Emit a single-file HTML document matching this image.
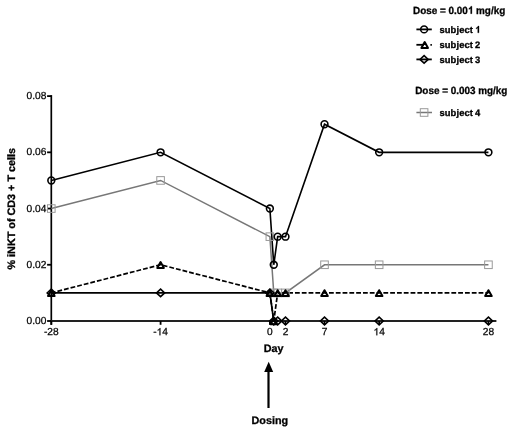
<!DOCTYPE html>
<html><head><meta charset="utf-8"><style>
html,body{margin:0;padding:0;background:#fff;}
body{width:520px;height:431px;overflow:hidden;}
svg{display:block;filter:blur(0.3px);}
text{font-family:"Liberation Sans",sans-serif;fill:#000;text-rendering:geometricPrecision;}
.tk{font-size:10.2px;stroke:#000;stroke-width:0.25px;}
.lt{font-size:10.4px;font-weight:bold;stroke:#000;stroke-width:0.3px;}
.ls{font-size:9.4px;letter-spacing:0.12px;word-spacing:-0.7px;font-weight:bold;stroke:#000;stroke-width:0.3px;}
.at{font-size:10.8px;font-weight:bold;stroke:#000;stroke-width:0.3px;}
</style></head><body>
<svg width="520" height="431" viewBox="0 0 520 431">
<path d="M51.30,95.1 L51.30,324.80" stroke="#000" stroke-width="1.7" fill="none"/>
<path d="M50.40,321.00 L496.4,321.00" stroke="#222" stroke-width="1.8" fill="none"/>
<path d="M47.1,321.00 L51.30,321.00" stroke="#000" stroke-width="1.8"/>
<text x="46.4" y="324.10" text-anchor="end" class="tk">0.00</text>
<path d="M47.1,264.77 L51.30,264.77" stroke="#000" stroke-width="1.8"/>
<text x="46.4" y="267.88" text-anchor="end" class="tk">0.02</text>
<path d="M47.1,208.55 L51.30,208.55" stroke="#000" stroke-width="1.8"/>
<text x="46.4" y="211.65" text-anchor="end" class="tk">0.04</text>
<path d="M47.1,152.33 L51.30,152.33" stroke="#000" stroke-width="1.8"/>
<text x="46.4" y="155.43" text-anchor="end" class="tk">0.06</text>
<path d="M47.1,96.10 L51.30,96.10" stroke="#000" stroke-width="1.8"/>
<text x="46.4" y="99.20" text-anchor="end" class="tk">0.08</text>
<path d="M51.30,321.00 L51.30,324.80" stroke="#000" stroke-width="1.8"/>
<text x="51.30" y="335.3" text-anchor="middle" class="tk">-28</text>
<path d="M160.58,321.00 L160.58,324.80" stroke="#000" stroke-width="1.8"/>
<text x="160.58" y="335.3" text-anchor="middle" class="tk one">- 4</text>
<path d="M269.87,321.00 L269.87,324.80" stroke="#000" stroke-width="1.8"/>
<text x="269.87" y="335.3" text-anchor="middle" class="tk">0</text>
<path d="M285.48,321.00 L285.48,324.80" stroke="#000" stroke-width="1.8"/>
<text x="285.48" y="335.3" text-anchor="middle" class="tk">2</text>
<path d="M324.51,321.00 L324.51,324.80" stroke="#000" stroke-width="1.8"/>
<text x="324.51" y="335.3" text-anchor="middle" class="tk">7</text>
<path d="M379.15,321.00 L379.15,324.80" stroke="#000" stroke-width="1.8"/>
<text x="379.15" y="335.3" text-anchor="middle" class="tk one"> 4</text>
<path d="M488.44,321.00 L488.44,324.80" stroke="#000" stroke-width="1.8"/>
<text x="488.44" y="335.3" text-anchor="middle" class="tk">28</text>
<polyline points="51.30,208.55 160.58,180.44 269.87,236.66 273.77,292.89 277.67,292.89 285.48,292.89 324.51,264.77 379.15,264.77 488.44,264.77" fill="none" stroke="#777" stroke-width="1.5"/>
<polyline points="51.30,292.89 160.58,292.89 269.87,292.89 273.77,321.00" fill="none" stroke="#000" stroke-width="1.7"/>
<polyline points="51.30,292.89 160.58,264.77" fill="none" stroke="#000" stroke-width="1.7" stroke-dasharray="4.8 2" stroke-dashoffset="0.5"/>
<polyline points="160.58,264.77 269.87,292.89" fill="none" stroke="#000" stroke-width="1.7" stroke-dasharray="4.8 2" stroke-dashoffset="4.54"/>
<polyline points="269.87,292.89 273.77,321.00" fill="none" stroke="#000" stroke-width="1.7" stroke-dasharray="4.8 2" stroke-dashoffset="0"/>
<polyline points="277.67,292.89 273.77,321.00" fill="none" stroke="#000" stroke-width="1.7" stroke-dasharray="4.8 2" stroke-dashoffset="2.26"/>
<polyline points="277.67,292.89 285.48,292.89 324.51,292.89 379.15,292.89 488.44,292.89" fill="none" stroke="#000" stroke-width="1.7" stroke-dasharray="4.8 2" stroke-dashoffset="3.1"/>
<polyline points="51.30,180.44 160.58,152.33 269.87,208.55 273.77,264.77 277.67,236.66 285.48,236.66 324.51,124.21 379.15,152.33 488.44,152.33" fill="none" stroke="#000" stroke-width="1.6"/>
<rect x="47.50" y="204.75" width="7.60" height="7.60" fill="none" stroke="#999" stroke-width="1"/>
<rect x="156.78" y="176.64" width="7.60" height="7.60" fill="none" stroke="#999" stroke-width="1"/>
<rect x="266.07" y="232.86" width="7.60" height="7.60" fill="none" stroke="#999" stroke-width="1"/>
<rect x="269.97" y="289.09" width="7.60" height="7.60" fill="none" stroke="#999" stroke-width="1"/>
<rect x="273.87" y="289.09" width="7.60" height="7.60" fill="none" stroke="#999" stroke-width="1"/>
<rect x="281.68" y="289.09" width="7.60" height="7.60" fill="none" stroke="#999" stroke-width="1"/>
<rect x="320.71" y="260.97" width="7.60" height="7.60" fill="none" stroke="#999" stroke-width="1"/>
<rect x="375.35" y="260.97" width="7.60" height="7.60" fill="none" stroke="#999" stroke-width="1"/>
<rect x="484.64" y="260.97" width="7.60" height="7.60" fill="none" stroke="#999" stroke-width="1"/>
<path d="M51.30,289.09 L55.40,292.89 L51.30,296.69 L47.20,292.89 Z" fill="none" stroke="#000" stroke-width="1.6"/>
<path d="M160.58,289.09 L164.68,292.89 L160.58,296.69 L156.48,292.89 Z" fill="none" stroke="#000" stroke-width="1.6"/>
<path d="M269.87,289.09 L273.97,292.89 L269.87,296.69 L265.77,292.89 Z" fill="none" stroke="#000" stroke-width="1.6"/>
<path d="M273.77,317.20 L277.87,321.00 L273.77,324.80 L269.67,321.00 Z" fill="none" stroke="#000" stroke-width="1.6"/>
<path d="M277.67,317.20 L281.77,321.00 L277.67,324.80 L273.57,321.00 Z" fill="none" stroke="#000" stroke-width="1.6"/>
<path d="M285.48,317.20 L289.58,321.00 L285.48,324.80 L281.38,321.00 Z" fill="none" stroke="#000" stroke-width="1.6"/>
<path d="M324.51,317.20 L328.61,321.00 L324.51,324.80 L320.41,321.00 Z" fill="none" stroke="#000" stroke-width="1.6"/>
<path d="M379.15,317.20 L383.25,321.00 L379.15,324.80 L375.05,321.00 Z" fill="none" stroke="#000" stroke-width="1.6"/>
<path d="M488.44,317.20 L492.54,321.00 L488.44,324.80 L484.34,321.00 Z" fill="none" stroke="#000" stroke-width="1.6"/>
<path d="M51.30,290.19 L54.60,296.09 L48.00,296.09 Z" fill="none" stroke="#000" stroke-width="2.0" stroke-linejoin="round"/>
<path d="M160.58,262.07 L163.88,267.97 L157.28,267.97 Z" fill="none" stroke="#000" stroke-width="2.0" stroke-linejoin="round"/>
<path d="M269.87,290.19 L273.17,296.09 L266.57,296.09 Z" fill="none" stroke="#000" stroke-width="2.0" stroke-linejoin="round"/>
<path d="M273.77,318.30 L277.07,324.20 L270.47,324.20 Z" fill="none" stroke="#000" stroke-width="2.0" stroke-linejoin="round"/>
<path d="M277.67,290.19 L280.97,296.09 L274.37,296.09 Z" fill="none" stroke="#000" stroke-width="2.0" stroke-linejoin="round"/>
<path d="M285.48,290.19 L288.78,296.09 L282.18,296.09 Z" fill="none" stroke="#000" stroke-width="2.0" stroke-linejoin="round"/>
<path d="M324.51,290.19 L327.81,296.09 L321.21,296.09 Z" fill="none" stroke="#000" stroke-width="2.0" stroke-linejoin="round"/>
<path d="M379.15,290.19 L382.45,296.09 L375.85,296.09 Z" fill="none" stroke="#000" stroke-width="2.0" stroke-linejoin="round"/>
<path d="M488.44,290.19 L491.74,296.09 L485.14,296.09 Z" fill="none" stroke="#000" stroke-width="2.0" stroke-linejoin="round"/>
<circle cx="51.30" cy="180.44" r="3.4" fill="none" stroke="#000" stroke-width="1.6"/>
<circle cx="160.58" cy="152.33" r="3.4" fill="none" stroke="#000" stroke-width="1.6"/>
<circle cx="269.87" cy="208.55" r="3.4" fill="none" stroke="#000" stroke-width="1.6"/>
<circle cx="273.77" cy="264.77" r="3.4" fill="none" stroke="#000" stroke-width="1.6"/>
<circle cx="277.67" cy="236.66" r="3.4" fill="none" stroke="#000" stroke-width="1.6"/>
<circle cx="285.48" cy="236.66" r="3.4" fill="none" stroke="#000" stroke-width="1.6"/>
<circle cx="324.51" cy="124.21" r="3.4" fill="none" stroke="#000" stroke-width="1.6"/>
<circle cx="379.15" cy="152.33" r="3.4" fill="none" stroke="#000" stroke-width="1.6"/>
<circle cx="488.44" cy="152.33" r="3.4" fill="none" stroke="#000" stroke-width="1.6"/>
<text transform="translate(413.1,13.7) scale(0.952,1)" class="lt one">Dose = 0.00  mg/kg</text>
<text transform="translate(415.2,93.8) scale(0.952,1)" class="lt">Dose = 0.003 mg/kg</text>
<path d="M416.4,29.40 L431.8,29.40" stroke="#000" stroke-width="1.8"/>
<circle cx="424.10" cy="29.40" r="3.4" fill="none" stroke="#000" stroke-width="1.6"/>
<text x="439.4" y="32.80" class="ls one">subject  </text>
<path d="M416.4,44.80 L424,44.80" stroke="#000" stroke-width="1.8"/>
<path d="M430.4,44.80 L431.9,44.80" stroke="#000" stroke-width="1.8"/>
<path d="M424.70,42.10 L428.00,48.00 L421.40,48.00 Z" fill="none" stroke="#000" stroke-width="2.0" stroke-linejoin="round"/>
<text x="439.4" y="47.80" class="ls">subject 2</text>
<path d="M416.4,59.40 L431.8,59.40" stroke="#000" stroke-width="1.8"/>
<path d="M424.10,55.60 L428.20,59.40 L424.10,63.20 L420.00,59.40 Z" fill="none" stroke="#000" stroke-width="1.6"/>
<text x="439.4" y="62.80" class="ls">subject 3</text>
<path d="M416.4,112.5 L432,112.5" stroke="#777" stroke-width="1.5"/>
<rect x="420.30" y="108.70" width="7.60" height="7.60" fill="none" stroke="#999" stroke-width="1"/>
<text x="439.4" y="115.9" class="ls">subject 4</text>
<text transform="translate(15.3,208.75) rotate(-90)" text-anchor="middle" class="at">% iNKT of CD3 + T cells</text>
<text x="273.6" y="352.3" text-anchor="middle" class="at">Day</text>
<path d="M268.5,408 L268.5,370" stroke="#000" stroke-width="2.2"/>
<path d="M268.7,361.7 L273.2,372 L264.2,372 Z" fill="#000"/>
<text x="269.8" y="423.8" text-anchor="middle" class="at">Dosing</text>
<path transform="translate(156.603,335.300) scale(0.004980,-0.004980)" d="M763 0H583V1147Q518 1085 412.5 1023T223 930V1104Q374 1175 487 1276T647 1472H763V0Z" fill="#000" stroke="#000" stroke-width="50.2"/>
<path transform="translate(373.478,335.300) scale(0.004980,-0.004980)" d="M763 0H583V1147Q518 1085 412.5 1023T223 930V1104Q374 1175 487 1276T647 1472H763V0Z" fill="#000" stroke="#000" stroke-width="50.2"/>
<g transform="translate(413.1,13.7) scale(0.952,1)"><path transform="translate(57.469,0.000) scale(0.005078,-0.005078)" d="M856 0H582V1033Q432 893 228 826V1075Q335 1110 461 1208T634 1466H856V0Z" fill="#000" stroke="#000" stroke-width="59.1"/></g>
<path transform="translate(475.072,32.800) scale(0.004590,-0.004590)" d="M856 0H582V1033Q432 893 228 826V1075Q335 1110 461 1208T634 1466H856V0Z" fill="#000" stroke="#000" stroke-width="65.4"/>
</svg>
</body></html>
